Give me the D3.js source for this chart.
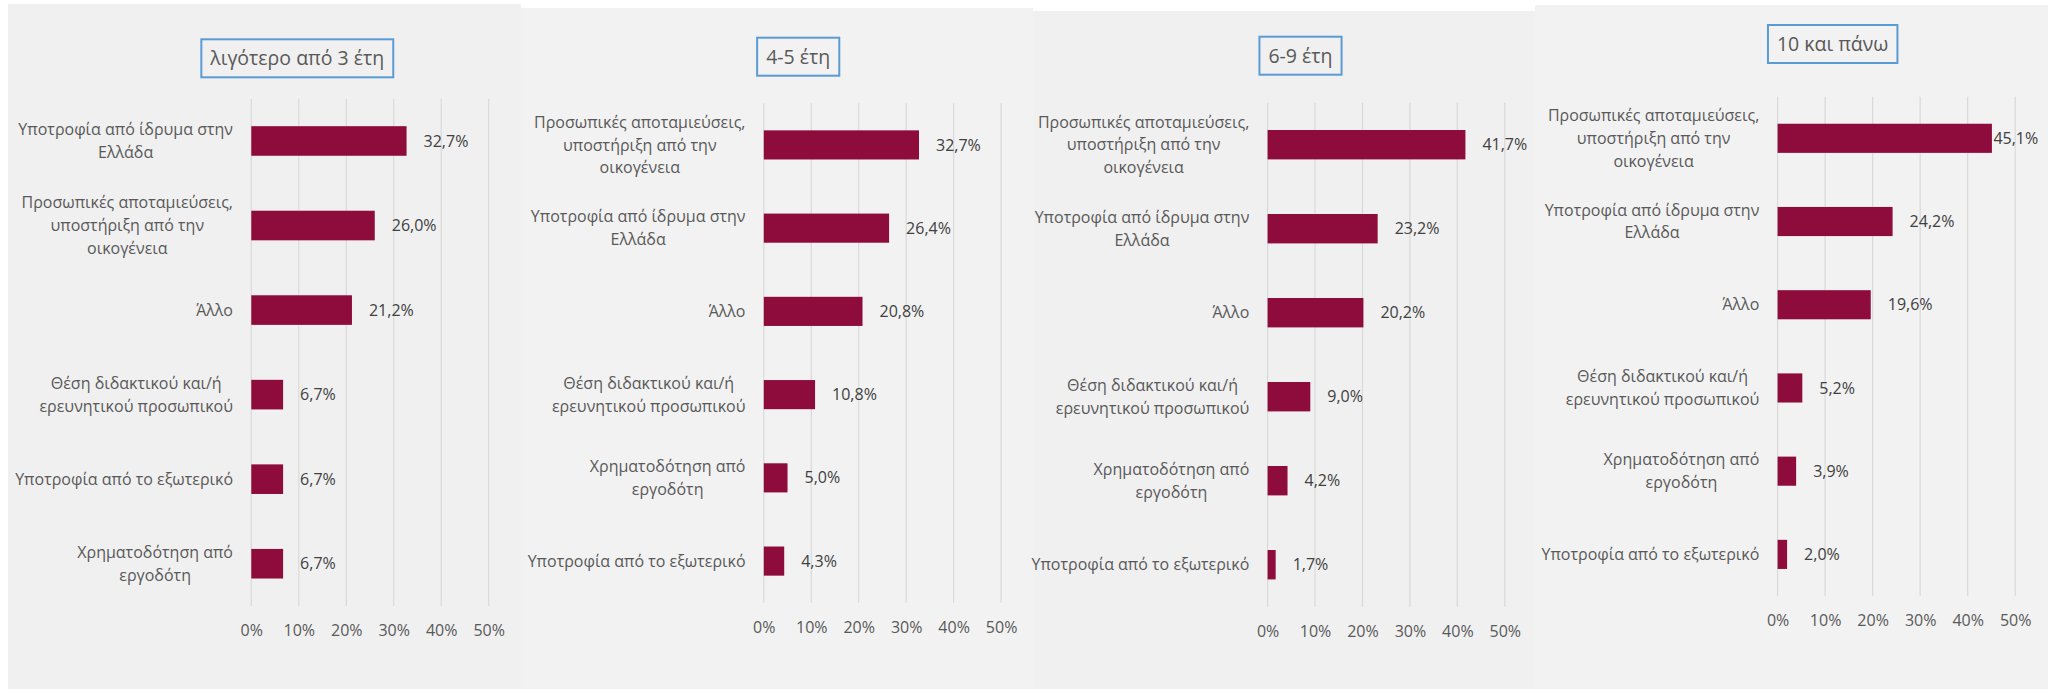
<!DOCTYPE html>
<html>
<head>
<meta charset="utf-8">
<script src="https://cdn.jsdelivr.net/npm/d3@7"></script>
<style>
  body { margin: 0; background: #ffffff; }
  svg { display: block; font-family: "Open Sans", "Noto Sans", sans-serif; }
  .tick text { fill: #595959; }
</style>
</head>
<body>
<div class="container"></div>
<script>
// Data
const titles = ['λιγότερο από 3 έτη', '4-5 έτη', '6-9 έτη', '10 και πάνω'];

const cats1 = [
    'Υποτροφία από ίδρυμα στην\nΕλλάδα',
    'Προσωπικές αποταμιεύσεις,\nυποστήριξη από την\nοικογένεια',
    'Άλλο',
    'Θέση διδακτικού και/ή\nερευνητικού προσωπικού',
    'Υποτροφία από το εξωτερικό',
    'Χρηματοδότηση από\nεργοδότη'
];
const vals1 = [32.7, 26.0, 21.2, 6.7, 6.7, 6.7];

const cats2 = [
    'Προσωπικές αποταμιεύσεις,\nυποστήριξη από την\nοικογένεια',
    'Υποτροφία από ίδρυμα στην\nΕλλάδα',
    'Άλλο',
    'Θέση διδακτικού και/ή\nερευνητικού προσωπικού',
    'Χρηματοδότηση από\nεργοδότη',
    'Υποτροφία από το εξωτερικό'
];
const vals2 = [32.7, 26.4, 20.8, 10.8, 5.0, 4.3];

const cats3 = cats2;
const vals3 = [41.7, 23.2, 20.2, 9.0, 4.2, 1.7];

const cats4 = cats2;
const vals4 = [45.1, 24.2, 19.6, 5.2, 3.9, 2.0];

const tickVals = [0, 10, 20, 30, 40, 50];

// Layout of each pasted chart
const panels = [
    {cats: cats1, vals: vals1, x: 8,    y: 4,  w: 513, bg: '#f0f0f0', x0: 251.3,  x1: 488.7,  top: 98.7,  bot: 606,   tx: 297.3,  ty: 39.3},
    {cats: cats2, vals: vals2, x: 521,  y: 8,  w: 512, bg: '#f2f2f2', x0: 763.8,  x1: 1001.1, top: 103.3, bot: 602.7, tx: 798.2,  ty: 37.7},
    {cats: cats3, vals: vals3, x: 1033, y: 11, w: 502, bg: '#f0f0f0', x0: 1267.6, x1: 1504.8, top: 102.7, bot: 606.7, tx: 1300.5, ty: 36.7},
    {cats: cats4, vals: vals4, x: 1535, y: 5,  w: 513, bg: '#f2f2f2', x0: 1777.6, x1: 2015.2, top: 96.7,  bot: 596,   tx: 1832.7, ty: 25}
];

const width = 2060, height = 689;
const barColor = '#8e0c3c';
const fontSize = 16, lineH = 22.7;

let svg = d3.select('.container')
    .append('svg')
    .attr('width', width)
    .attr('height', height);

panels.forEach((p, i) => {
    let g = svg.append('g');

    g.append('rect')
        .attr('x', p.x).attr('y', p.y)
        .attr('width', p.w).attr('height', height - p.y)
        .attr('fill', p.bg);

    let xScale = d3.scaleLinear().domain([0, 50]).range([p.x0, p.x1]);
    let yScale = d3.scaleBand()
        .domain(p.cats)
        .range([p.top, p.bot])
        .paddingInner(0.65)
        .paddingOuter(0.325);

    // Gridlines
    g.append('g')
        .selectAll('line')
        .data(tickVals)
        .enter().append('line')
            .attr('x1', d => xScale(d)).attr('x2', d => xScale(d))
            .attr('y1', p.top).attr('y2', p.bot)
            .attr('stroke', '#d9d9d9')
            .attr('stroke-width', 1.2);

    // X axis labels
    let xAxis = d3.axisBottom(xScale)
        .tickValues(tickVals)
        .tickSize(0)
        .tickPadding(19)
        .tickFormat(d => d + '%');
    g.append('g')
        .attr('transform', 'translate(0,' + p.bot + ')')
        .call(xAxis)
        .call(a => a.select('.domain').remove())
        .selectAll('text')
            .style('font-size', fontSize + 'px')
            .style('font-family', '"Open Sans", sans-serif');

    // Bars
    g.append('g')
        .selectAll('rect')
        .data(p.vals)
        .enter().append('rect')
            .attr('x', xScale(0))
            .attr('y', (d, j) => yScale(p.cats[j]))
            .attr('width', d => xScale(d) - xScale(0))
            .attr('height', yScale.bandwidth())
            .attr('fill', barColor);

    // Category labels: block right aligned, lines centred
    let labelRight = xScale(0) - 18.3;
    p.cats.forEach(c => {
        let lines = c.split('\n');
        let cy = yScale(c) + yScale.bandwidth() / 2;
        let t = g.append('text')
            .attr('fill', '#595959')
            .style('font-size', fontSize + 'px')
            .attr('text-anchor', 'middle');
        lines.forEach((ln, k) => {
            t.append('tspan')
                .attr('y', cy + (k - (lines.length - 1) / 2) * lineH)
                .attr('dy', '0.35em')
                .text(ln);
        });
        let maxW = d3.max(t.selectAll('tspan').nodes(), n => n.getComputedTextLength());
        t.selectAll('tspan').attr('x', labelRight - maxW / 2);
    });

    // Value labels
    g.append('g')
        .selectAll('text')
        .data(p.vals)
        .enter().append('text')
            .attr('y', (d, j) => yScale(p.cats[j]) + yScale.bandwidth() / 2)
            .attr('dy', '0.35em')
            .attr('fill', '#404040')
            .style('font-size', fontSize + 'px')
            .text(d => d.toFixed(1).replace('.', ',') + '%')
            .attr('x', function (d) {
                let w = this.getComputedTextLength();
                return Math.min(xScale(d) + 17, xScale(50) + 23 - w);
            });

    // Title in a box
    let title = g.append('text')
        .attr('x', p.tx)
        .attr('y', p.ty + 19)
        .attr('dy', '0.35em')
        .attr('text-anchor', 'middle')
        .attr('fill', '#595959')
        .style('font-size', '19.5px')
        .text(titles[i]);
    let tw = title.node().getComputedTextLength();
    g.append('rect')
        .attr('x', p.tx - tw / 2 - 9)
        .attr('y', p.ty)
        .attr('width', tw + 18)
        .attr('height', 38)
        .attr('fill', 'none')
        .attr('stroke', '#5b9bd5')
        .attr('stroke-width', 2);
});
</script>
</body>
</html>
